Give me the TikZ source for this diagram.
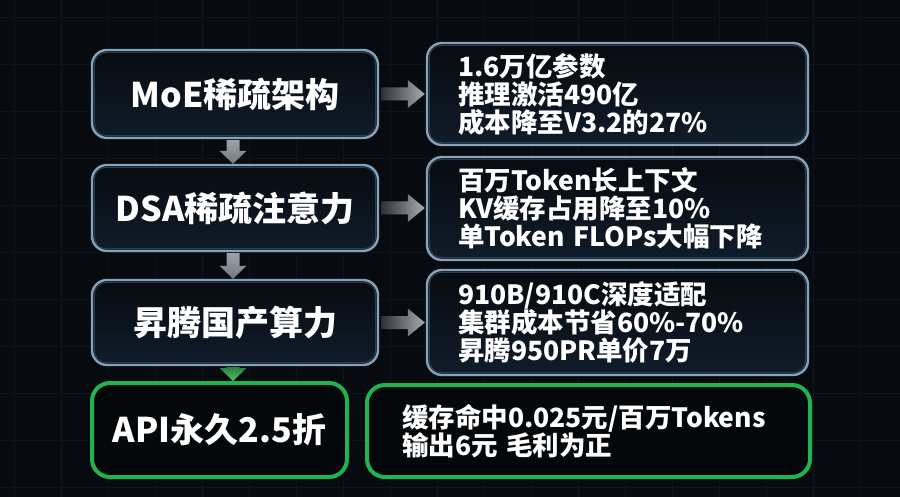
\documentclass[tikz,border=0pt]{standalone}
\usepackage{fontspec}
\setmainfont{Noto Sans CJK SC}
\usetikzlibrary{calc}
\definecolor{bg}{HTML}{070B10}
\definecolor{gridc}{HTML}{0C151D}
\definecolor{rim}{HTML}{86A2B8}
\definecolor{innerrim}{HTML}{2A3C4E}
\definecolor{boxtop}{HTML}{070B10}
\definecolor{boxbot}{HTML}{101C2A}
\definecolor{grn}{HTML}{1FB44F}
\definecolor{gbox}{HTML}{05080B}
\definecolor{arrL}{HTML}{2B3138}
\definecolor{arrR}{HTML}{A6ACB2}
\definecolor{arrT}{HTML}{9AA1A8}
\definecolor{arrB}{HTML}{737A82}
\definecolor{garT}{HTML}{2E7D3E}
\definecolor{garB}{HTML}{4BC463}
\newcommand\hflow[3]{%
  \coordinate (hs) at (#1.east);
  \coordinate (he) at (#1.east -| #2.west);
  \shade[#3] ($(hs)+(2,-6.5)$) -- ($(he)+(-18,-6.5)$) -- ($(he)+(-18,-14)$) -- ($(he)+(-1,0)$)
    -- ($(he)+(-18,14)$) -- ($(he)+(-18,6.5)$) -- ($(hs)+(2,6.5)$) -- cycle;}
\newcommand\vflow[3]{%
  \coordinate (vs) at ($(#1.south)+(-2,0)$);
  \coordinate (ve) at (vs |- #2.north);
  \shade[#3] ($(vs)+(-6.5,1)$) -- ($(ve)+(-6.5,-13)$) -- ($(ve)+(-13.5,-13)$) -- ($(ve)+(0,0)$)
    -- ($(ve)+(13.5,-13)$) -- ($(ve)+(6.5,-13)$) -- ($(vs)+(6.5,1)$) -- cycle;}
\begin{document}
\begin{tikzpicture}[x=1pt,y=-1pt,
  glass/.style={rectangle, rounded corners=15pt, draw=rim, line width=2.4pt,
    top color=boxtop, bottom color=boxbot, text=white},
  greenbox/.style={rectangle, rounded corners=18pt, draw=grn, line width=4pt,
    fill=gbox, text=white},
  title/.style={font=\bfseries\fontsize{34}{37}\selectfont, inner sep=0pt},
  info/.style={font=\bfseries\fontsize{26.5}{28}\selectfont, align=left},
  harr/.style={left color=arrL, right color=arrR},
  varr/.style={top color=arrT, bottom color=arrB},
  garr/.style={top color=garT, bottom color=garB}]
\fill[bg] (0,0) rectangle (900,497);
\useasboundingbox (0,0) rectangle (900,497);
\foreach \x in {14,61,...,900} \draw[gridc, line width=0.6pt] (\x,0) -- (\x,497);
\foreach \y in {17,64,...,497} \draw[gridc, line width=0.6pt] (0,\y) -- (900,\y);

% left column
\node[glass, title, minimum width=286pt, minimum height=88pt] (b1) at (235,94) {MoE稀疏架构};
\node[glass, title, minimum width=286pt, minimum height=86pt] (b2) at (235,208) {DSA稀疏注意力};
\node[glass, title, minimum width=286pt, minimum height=85pt] (b3) at (235,322.5) {昇腾国产算力};
\node[greenbox, title, minimum width=255pt, minimum height=94pt] (b4) at (219.5,430) {API永久2.5折};

% right column
\node[glass, info, text width=319pt, inner xsep=31pt, minimum height=102pt] (r1) at (617.5,94)
  {1.6万亿参数\\推理激活490亿\\成本降至V3.2的27\%};
\node[glass, info, text width=319pt, inner xsep=31pt, minimum height=103pt] (r2) at (617.5,208.5)
  {百万Token长上下文\\KV缓存占用降至10\%\\单Token FLOPs大幅下降};
\node[glass, info, text width=319pt, inner xsep=31pt, minimum height=105pt] (r3) at (617.5,322.5)
  {910B/910C深度适配\\集群成本节省60\%-70\%\\昇腾950PR单价7万};
\node[greenbox, info, text width=373pt, inner xsep=35pt, minimum height=92pt] (r4) at (588.5,431)
  {缓存命中0.025元/百万Tokens\\输出6元 毛利为正};

% inner rims
\foreach \n in {b1,b2,b3,r1,r2,r3}
  \draw[innerrim, line width=1.2pt, rounded corners=12pt]
    ($(\n.north west)+(3.5,3.5)$) rectangle ($(\n.south east)+(-3.5,-3.5)$);

% connectors
\hflow{b1}{r1}{harr}
\hflow{b2}{r2}{harr}
\hflow{b3}{r3}{harr}
\vflow{b1}{b2}{varr}
\vflow{b2}{b3}{varr}
\vflow{b3}{b4}{garr}
\end{tikzpicture}
\end{document}
